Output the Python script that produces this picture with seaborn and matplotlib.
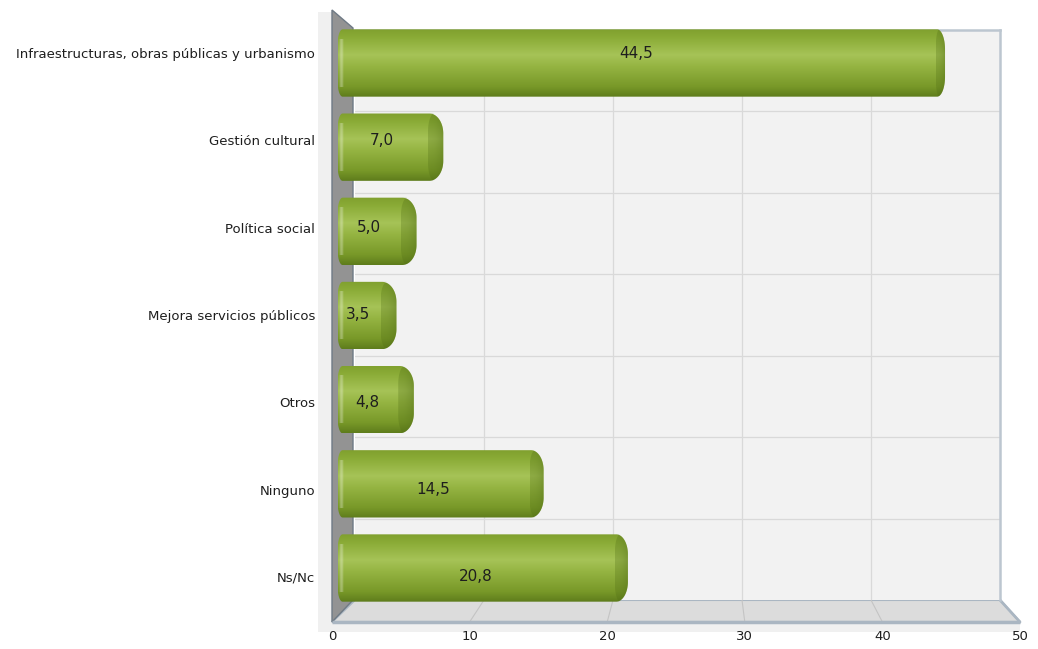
import numpy as np
import matplotlib
matplotlib.use("Agg")
import matplotlib.pyplot as plt
import matplotlib.transforms as mtransforms
import seaborn as sns
from matplotlib.patches import Polygon
from matplotlib.colors import LinearSegmentedColormap, to_rgb

categories = ["Infraestructuras, obras públicas y urbanismo", "Gestión cultural", "Política social",
              "Mejora servicios públicos", "Otros", "Ninguno", "Ns/Nc"]
values = [44.5, 7.0, 5.0, 3.5, 4.8, 14.5, 20.8]
x_ticks = [0, 10, 20, 30, 40, 50]

W, H = 1038, 649
sns.set_theme(style="white")
plt.rcParams["font.family"] = ["DejaVu Sans"]

fig = plt.figure(figsize=(W / 100, H / 100), dpi=100)


def frac(x0, y0, x1, y1):
    # pixel box -> figure fraction
    return [x0 / W, 1 - y1 / H, (x1 - x0) / W, (y1 - y0) / H]


def rounded(x0, x1, y0, y1, rxl, ryl, rxr, ryr, n=24):
    # box with elliptic corners, y0 is the top (inverted axis)
    pts = []
    for a in np.linspace(np.pi / 2, 0, n):
        pts.append((x1 - rxr + rxr * np.cos(a), y0 + ryr - ryr * np.sin(a)))
    for a in np.linspace(0, -np.pi / 2, n):
        pts.append((x1 - rxr + rxr * np.cos(a), y1 - ryr - ryr * np.sin(a)))
    for a in np.linspace(-np.pi / 2, -np.pi, n):
        pts.append((x0 + rxl + rxl * np.cos(a), y1 - ryl - ryl * np.sin(a)))
    for a in np.linspace(np.pi, np.pi / 2, n):
        pts.append((x0 + rxl + rxl * np.cos(a), y0 + ryl - ryl * np.sin(a)))
    return pts


# 3d frame in pixels: front scale, back wall
FX0, FX1 = 332, 1020
BX0, BX1 = 355, 1000
TOP_F, TOP_B = 10, 30
BOT_B, BOT_F = 600, 622
XMAX = x_ticks[-1]
# bars sit a little behind the front plane -> slightly compressed scale
BAR0, BAR_PX = 334.6, 13.54

deco = fig.add_axes([0, 0, 1, 1])
deco.set_xlim(0, W)
deco.set_ylim(H, 0)
deco.axis("off")
deco.set_zorder(0)

# light band left of the wall and under the floor
deco.add_patch(Polygon([(FX0 - 14, TOP_F + 2), (FX0, TOP_F + 2), (FX0, BOT_F + 10), (FX0 - 14, BOT_F + 10)],
                       closed=True, facecolor="#f0f0f0", edgecolor="none"))
deco.add_patch(Polygon([(FX0, BOT_F), (FX1, BOT_F), (FX1, BOT_F + 10), (FX0, BOT_F + 10)],
                       closed=True, facecolor="#f0f0f0", edgecolor="none"))
# floor
deco.add_patch(Polygon([(BX0, BOT_B), (BX1, BOT_B), (FX1, BOT_F), (FX0, BOT_F)],
                       closed=True, facecolor="#dcdcdc", edgecolor="#aab6c2", lw=1.5))
for v in x_ticks[1:-1]:
    bx = BX0 + (BX1 - BX0) * v / XMAX
    fx = FX0 + (FX1 - FX0) * v / XMAX
    deco.plot([bx, fx], [BOT_B, BOT_F], color="#c4c4c4", lw=0.8)
deco.plot([FX0, FX1], [BOT_F, BOT_F], color="#aab6c2", lw=2.5, solid_capstyle="butt")
deco.plot([BX1, FX1], [BOT_B, BOT_F], color="#aab6c2", lw=2)
# left wall
deco.add_patch(Polygon([(FX0, TOP_F), (BX0 - 2, TOP_B - 2), (BX0 - 2, BOT_B), (FX0, BOT_F)],
                       closed=True, facecolor="#939393", edgecolor="#6f7a85", lw=1))

# back wall
back = fig.add_axes(frac(BX0, TOP_B, BX1, BOT_B))
back.set_zorder(1)
back.set_facecolor("#f2f2f2")
back.set_xlim(0, XMAX)
back.set_ylim(0, len(categories))
back.set_xticks(x_ticks[1:-1])
back.set_yticks(range(1, len(categories)))
back.grid(True, color="#d9d9d9", lw=0.9)
back.tick_params(length=0, labelbottom=False, labelleft=False)
for s in ["left", "bottom"]:
    back.spines[s].set_visible(False)
for s in ["top", "right"]:
    back.spines[s].set_color("#bcc6d0")
    back.spines[s].set_linewidth(1.8)

# bars
ax = fig.add_axes(frac(FX0, TOP_F, FX1, BOT_F))
ax.set_zorder(2)
ax.patch.set_alpha(0)
sns.barplot(x=values, y=categories, orient="h", width=0.8, color="#8aab35", ax=ax)
PY = 84.17  # pixels per category unit
xlim = (-(BAR0 - FX0) / BAR_PX, (FX1 - BAR0) / BAR_PX)
ylim = (6 + (BOT_F - 568) / PY, -(63 - TOP_F) / PY)

cmap = LinearSegmentedColormap.from_list("cyl", [
    (0.0, "#80a02e"), (0.12, "#8aab36"), (0.38, "#a6c357"), (0.55, "#95b442"),
    (0.85, "#789828"), (1.0, "#5e7c1c")])
grad = np.linspace(0, 1, 256).reshape(-1, 1)
capshade = np.zeros((1, 64, 4))
capshade[..., :3] = to_rgb("#4f6c14")
capshade[..., 3] = 0.28 + 0.25 * np.linspace(0, 1, 64) ** 2
shine = np.zeros((1, 16, 4))
shine[..., :3] = 1.0
shine[..., 3] = np.sin(np.linspace(0, np.pi, 16)) * 0.3

PX = BAR_PX
inset = 3 / PX
for p in list(ax.patches):
    x, y, w, h = p.get_x(), p.get_y(), p.get_width(), p.get_height()
    p.remove()
    cap = (15 - 0.16 * w) / PX          # end cap shrinks with perspective
    x0, x1, y0, y1 = x + inset, x + w + cap, y, y + h
    shape = Polygon(rounded(x0, x1, y0, y1, 5 / PX, 15 / PY, cap, 20 / PY),
                    closed=True, facecolor="none", edgecolor="none")
    ax.add_patch(shape)
    img = ax.imshow(grad, cmap=cmap, aspect="auto", origin="upper",
                    extent=(x0, x1, y1, y0), zorder=2)
    img.set_clip_path(shape)
    face = Polygon(rounded(x + w - 0.1, x1, y0, y1, cap * 0.45, 18 / PY, cap, 20 / PY),
                   closed=True, facecolor="none", edgecolor="none")
    ax.add_patch(face)
    end = ax.imshow(capshade, aspect="auto", origin="upper",
                    extent=(x + w - 0.1, x1, y1, y0), zorder=3)
    end.set_clip_path(face)
    hl = ax.imshow(shine, aspect="auto", origin="upper",
                   extent=(x0 + 1 / PX, x0 + 6 / PX, y1 - 10 / PY, y0 + 10 / PY), zorder=3)
    hl.set_clip_path(shape)

ax.set_xlim(*xlim)
ax.set_ylim(*ylim)
ax.set_xticks([])
ax.set_yticks([])
ax.set_xlabel("")
ax.set_ylabel("")
sns.despine(ax=ax, left=True, bottom=True)

# front scale: category labels and x ticks
lab = fig.add_axes(frac(FX0, TOP_F, FX1, BOT_F))
lab.set_zorder(3)
lab.patch.set_alpha(0)
lab.set_xlim(0, XMAX)
lab.set_ylim(6 + (BOT_F - 577) / 87.3, -(53 - TOP_F) / 87.3)
lab.set_yticks(range(len(categories)))
lab.set_yticklabels(categories)
lab.set_xticks(x_ticks)
lab.set_xticklabels([str(t) for t in x_ticks])
lab.tick_params(axis="y", length=0, pad=12, labelsize=9.5, colors="#1e1e1e")
lab.tick_params(axis="x", length=0, pad=6, labelsize=9.5, colors="#1e1e1e")
for s in lab.spines.values():
    s.set_visible(False)

# value labels: x on the bar scale, y on the label rows
trans = mtransforms.blended_transform_factory(ax.transData, lab.transData)
for i, v in enumerate(values):
    lab.text(v / 2, i, f"{v:.1f}".replace(".", ","), ha="center", va="center",
             fontsize=11, color="#1e1e1e", transform=trans)

fig.savefig("out.png", dpi=100, facecolor="white")
